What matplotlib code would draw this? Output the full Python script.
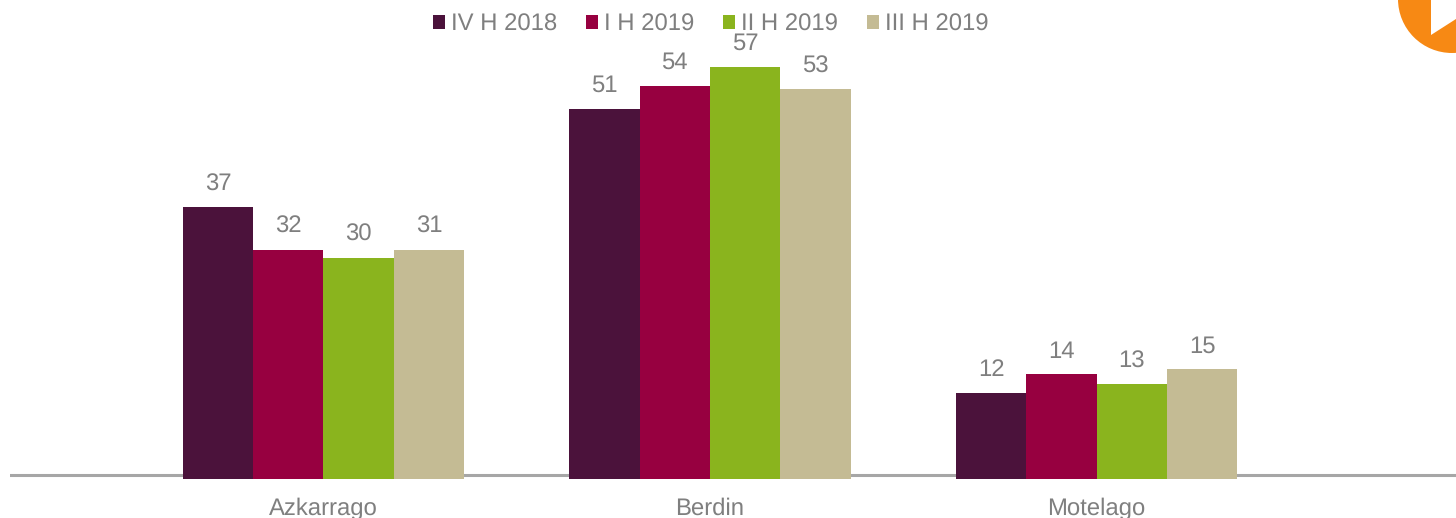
import matplotlib
matplotlib.use('Agg')
import matplotlib.pyplot as plt
import matplotlib.patches as mpatches
import numpy as np

plt.rcParams['font.family'] = ['Liberation Sans', 'DejaVu Sans']
plt.rcParams['text.hinting'] = 'no_hinting'

categories = ['Azkarrago', 'Berdin', 'Motelago']
series_names = ['IV H 2018', 'I H 2019', 'II H 2019', 'III H 2019']
colors = ['#4b123b', '#970040', '#8ab41e', '#c4bb94']

# bar heights as measured, labels as printed on the chart
iv_2018 = [37.4, 50.9, 11.8]
i_2019 = [31.5, 54.1, 14.4]
ii_2019 = [30.4, 56.7, 13.0]
iii_2019 = [31.5, 53.6, 15.1]

iv_2018_labels = ['37', '51', '12']
i_2019_labels = ['32', '54', '14']
ii_2019_labels = ['30', '57', '13']
iii_2019_labels = ['31', '53', '15']

values = [iv_2018, i_2019, ii_2019, iii_2019]
labels = [iv_2018_labels, i_2019_labels, ii_2019_labels, iii_2019_labels]

W, H = 1456, 518
grey = '#7f7f7f'
fs = 17.2

fig = plt.figure(figsize=(W / 100, H / 100), dpi=100)
ax = fig.add_axes([10 / W, (H - 479) / H, (W - 10) / W, 479 / H])

x = np.arange(len(categories))
width = 0.182
for i, name in enumerate(series_names):
    bars = ax.bar(x + (i - 1.5) * width, values[i], width, color=colors[i], label=name, zorder=3)
    ax.bar_label(bars, labels=labels[i], padding=8.5, color=grey, fontsize=fs)

ax.set_xlim(-0.811, 2.93)
ax.set_ylim(0, 479 / 7.27)
ax.set_yticks([])
ax.set_xticks(x, categories, color=grey, fontsize=fs)
ax.tick_params(axis='x', length=0, pad=13.5)
for s in ax.spines.values():
    s.set_visible(False)
ax.patch.set_visible(False)

# axis line sits a little above the foot of the bars
ax.axhline(4 / 7.27, color='#a6a6a6', lw=2.2, zorder=1)

ax.legend(loc='upper center', bbox_to_anchor=((711 - 10) / (W - 10), 1 - 13 / 479),
          ncol=4, frameon=False, fontsize=fs, labelcolor=grey,
          handlelength=0.48, handleheight=0.48, handletextpad=0.27, columnspacing=1.21,
          borderpad=0, borderaxespad=0)

# orange play badge cut off in the corner
fig.add_artist(mpatches.Circle((1452, H + 1), 54, color='#f78914', transform=None, lw=0))
fig.add_artist(mpatches.Polygon([(1431, H), (1431, H - 35), (1456, H - 19), (1456, H)],
                                color='white', transform=None, lw=0))

fig.savefig('out.png', dpi=100)
